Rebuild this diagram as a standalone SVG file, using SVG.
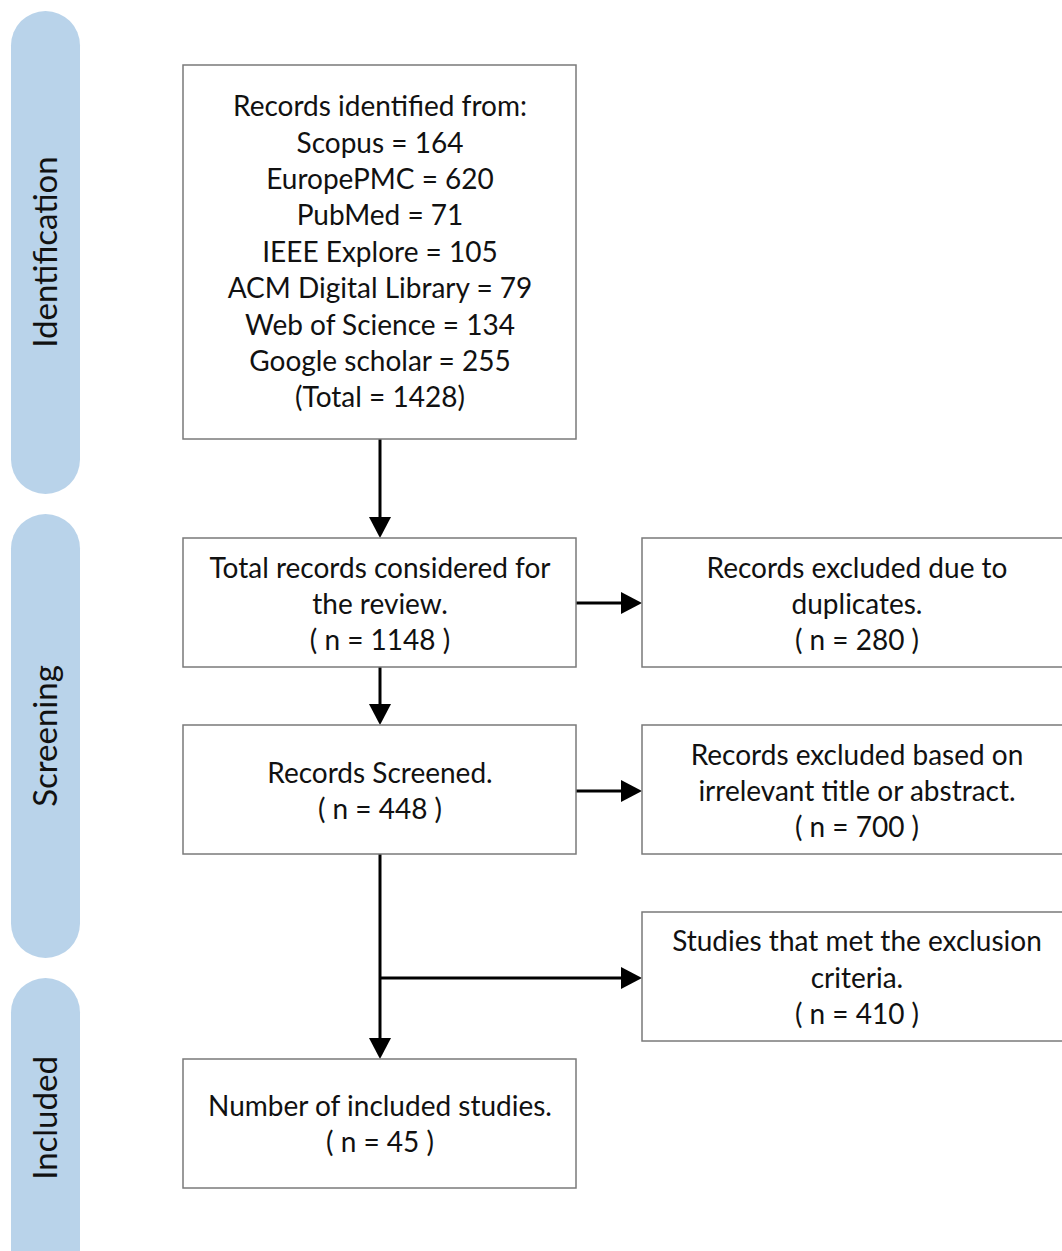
<svg xmlns="http://www.w3.org/2000/svg" width="1062" height="1251" viewBox="0 0 1062 1251">
<style>
.bar{fill:#b9d3ea;}
.box{fill:#ffffff;stroke:#7a7a7a;stroke-width:1.5;}
.t{font-family:Lato,"Open Sans","Liberation Sans",sans-serif;font-size:28px;fill:#111;text-anchor:middle;}
.s{font-family:Lato,"Open Sans","Liberation Sans",sans-serif;font-size:33px;fill:#111;text-anchor:middle;}
.c{fill:none;stroke:#000;stroke-width:3;}
</style>
<rect width="1062" height="1251" fill="#ffffff"/>
<g id="phase-identification">
<rect class="bar" x="11" y="11" width="69" height="483" rx="34.5"/>
<text class="s" transform="translate(57,252) rotate(-90)">Identification</text>
</g>
<g id="phase-screening">
<rect class="bar" x="11" y="514" width="69" height="444" rx="34.5"/>
<text class="s" transform="translate(57,736) rotate(-90)">Screening</text>
</g>
<g id="phase-included">
<rect class="bar" x="11" y="978" width="69" height="310" rx="34.5"/>
<text class="s" transform="translate(57,1118) rotate(-90)">Included</text>
</g>
<g id="connectors">
<line class="c" x1="380" y1="439" x2="380" y2="520"/>
<path d="M369,517 L391,517 L380,538 Z" fill="#000"/>
<line class="c" x1="576" y1="603" x2="624" y2="603"/>
<path d="M621,592 L642,603 L621,614 Z" fill="#000"/>
<line class="c" x1="380" y1="667" x2="380" y2="707"/>
<path d="M369,704 L391,704 L380,725 Z" fill="#000"/>
<line class="c" x1="576" y1="791" x2="624" y2="791"/>
<path d="M621,780 L642,791 L621,802 Z" fill="#000"/>
<line class="c" x1="380" y1="854" x2="380" y2="1041"/>
<path d="M369,1038 L391,1038 L380,1059 Z" fill="#000"/>
<line class="c" x1="380" y1="978" x2="624" y2="978"/>
<path d="M621,967 L642,978 L621,989 Z" fill="#000"/>
</g>
<g id="records-identified">
<rect class="box" x="183" y="65" width="393" height="374"/>
<text class="t" x="380" y="116">Records identified from:</text>
<text class="t" x="380" y="153">Scopus = 164</text>
<text class="t" x="380" y="189">EuropePMC = 620</text>
<text class="t" x="380" y="225">PubMed = 71</text>
<text class="t" x="380" y="262">IEEE Explore = 105</text>
<text class="t" x="380" y="298">ACM Digital Library = 79</text>
<text class="t" x="380" y="335">Web of Science = 134</text>
<text class="t" x="380" y="371">Google scholar = 255</text>
<text class="t" x="380" y="407">(Total = 1428)</text>
</g>
<g id="total-records">
<rect class="box" x="183" y="538" width="393" height="129"/>
<text class="t" x="380" y="578">Total records considered for</text>
<text class="t" x="380" y="614">the review.</text>
<text class="t" x="380" y="650">( n = 1148 )</text>
</g>
<g id="excluded-duplicates">
<rect class="box" x="642" y="538" width="430" height="129"/>
<text class="t" x="857" y="578">Records excluded due to</text>
<text class="t" x="857" y="614">duplicates.</text>
<text class="t" x="857" y="650">( n = 280 )</text>
</g>
<g id="records-screened">
<rect class="box" x="183" y="725" width="393" height="129"/>
<text class="t" x="380" y="783">Records Screened.</text>
<text class="t" x="380" y="819">( n = 448 )</text>
</g>
<g id="excluded-irrelevant">
<rect class="box" x="642" y="725" width="430" height="129"/>
<text class="t" x="857" y="765">Records excluded based on</text>
<text class="t" x="857" y="801">irrelevant title or abstract.</text>
<text class="t" x="857" y="837">( n = 700 )</text>
</g>
<g id="exclusion-criteria">
<rect class="box" x="642" y="912" width="430" height="129"/>
<text class="t" x="857" y="951">Studies that met the exclusion</text>
<text class="t" x="857" y="988">criteria.</text>
<text class="t" x="857" y="1024">( n = 410 )</text>
</g>
<g id="included-studies">
<rect class="box" x="183" y="1059" width="393" height="129"/>
<text class="t" x="380" y="1116">Number of included studies.</text>
<text class="t" x="380" y="1152">( n = 45 )</text>
</g>
</svg>
